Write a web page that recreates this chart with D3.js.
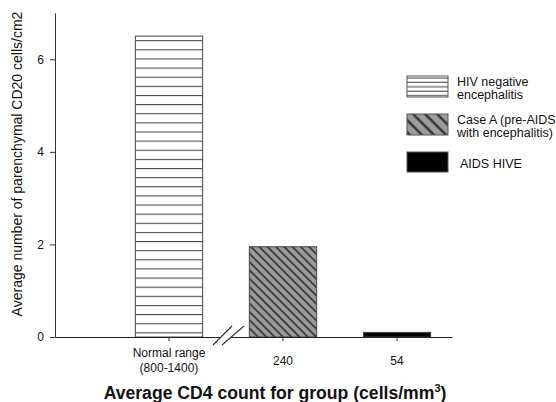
<!DOCTYPE html>
<html>
<head>
<meta charset="utf-8">
<script src="https://cdn.jsdelivr.net/npm/d3@7"></script>
<style>
  body { margin: 0; background: #fff; }
  svg { display: block; font-family: "Liberation Sans", Arial, sans-serif; }
</style>
</head>
<body>
<svg id="chart" width="556" height="402"></svg>
<script>
// data
const groups = ["Normal range (800-1400)", "240", "54"];
const groupLabels = [["Normal range", "(800-1400)"], ["240"], ["54"]];
const cd20Values = [6.5, 1.95, 0.1];
const seriesNames = ["HIV negative|encephalitis", "Case A (pre-AIDS|with encephalitis)", "AIDS HIVE"];
const yTicks = [0, 2, 4, 6];

const svg = d3.select("#chart");
const fills = ["url(#stripes)", "url(#hatch)", "#000"];
const legendFills = ["url(#stripesSmall)", "url(#hatchBig)", "#000"];

/** scales */
const y = d3.scaleLinear().domain([0, 7]).range([337, 13]);
const x = d3.scaleBand()
    .domain(groups)
    .range([55, 452])
    .paddingInner(0.41)
    .paddingOuter(0.446)
    .align(0.79);

/** patterns */
const defs = svg.append("defs");
function stripes(id, h, off) {
    const p = defs.append("pattern").attr("id", id)
        .attr("patternUnits", "userSpaceOnUse")
        .attr("width", 10).attr("height", h);
    p.append("rect").attr("width", 10).attr("height", h).attr("fill", "#fff");
    p.append("line").attr("x1", 0).attr("x2", 10).attr("y1", off).attr("y2", off)
        .attr("stroke", "#3a3a3a").attr("stroke-width", 1);
}
function hatch(id, s, w) {
    const p = defs.append("pattern").attr("id", id)
        .attr("patternUnits", "userSpaceOnUse")
        .attr("width", 10).attr("height", s)
        .attr("patternTransform", "rotate(45)");
    p.append("rect").attr("width", 10).attr("height", s).attr("fill", "#9c9c9c");
    p.append("line").attr("x1", 0).attr("x2", 10).attr("y1", s / 2).attr("y2", s / 2)
        .attr("stroke", "#333").attr("stroke-width", w);
}
stripes("stripes", 9.13, 4.2);
stripes("stripesSmall", 4.4, 2);
hatch("hatch", 5.87, 1.7);
hatch("hatchBig", 8.5, 2.4);

/** bars */
svg.append("g").selectAll("rect")
    .data(cd20Values)
    .join("rect")
    .attr("x", (d, i) => x(groups[i]))
    .attr("width", x.bandwidth())
    .attr("y", d => y(d))
    .attr("height", d => y(0) - y(d))
    .attr("fill", (d, i) => fills[i])
    .attr("stroke", "#444")
    .attr("stroke-width", 1);

/** y axis */
const yAxis = svg.append("g")
    .attr("transform", "translate(55,0)")
    .call(d3.axisLeft(y).tickValues(yTicks).tickFormat(d3.format("d")).tickSize(5).tickSizeOuter(0).tickPadding(6));
yAxis.select(".domain").attr("stroke", "#333");
yAxis.selectAll(".tick line").attr("stroke", "#333");
yAxis.selectAll("text").attr("font-size", 12).attr("fill", "#111")
    .attr("font-family", "Liberation Sans, Arial, sans-serif");

/** x axis */
const xAxis = svg.append("g")
    .attr("transform", "translate(0," + y(0) + ")")
    .call(d3.axisBottom(x).tickSize(4).tickSizeOuter(0).tickFormat(""));
xAxis.select(".domain").attr("stroke", "#222");
xAxis.selectAll(".tick line").attr("stroke", "#333");

// multi-line tick labels
svg.append("g").selectAll("text")
    .data(groups)
    .join("text")
    .attr("x", d => x(d) + x.bandwidth() / 2)
    .attr("y", (d, i) => groupLabels[i].length > 1 ? 357 : 365)
    .attr("text-anchor", "middle")
    .attr("font-size", 12)
    .attr("fill", "#111")
    .selectAll("tspan")
    .data((d, i) => groupLabels[i])
    .join("tspan")
    .attr("x", function () { return d3.select(this.parentNode).attr("x"); })
    .attr("dy", (d, j) => j ? 15 : 0)
    .text(d => d);

// axis break between first two groups
const bx = x(groups[0]) + x.bandwidth() + (x.step() - x.bandwidth()) / 2 + 2;
const by = y(0);
svg.append("rect").attr("x", bx - 7).attr("y", by - 2).attr("width", 10).attr("height", 4).attr("fill", "#fff");
[[-15, 8, 4, -11], [-6, 8, 16, -11]].forEach(s => {
    svg.append("line")
        .attr("x1", bx + s[0]).attr("y1", by + s[1])
        .attr("x2", bx + s[2]).attr("y2", by + s[3])
        .attr("stroke", "#333").attr("stroke-width", 1.1);
});

/** titles */
svg.append("text")
    .attr("transform", "translate(22,164) rotate(-90)")
    .attr("text-anchor", "middle")
    .attr("font-size", 14)
    .attr("fill", "#111")
    .text("Average number of parenchymal CD20 cells/cm2");

const xt = svg.append("text")
    .attr("x", 275).attr("y", 399)
    .attr("text-anchor", "middle")
    .attr("font-size", 17.6)
    .attr("font-weight", "bold")
    .attr("fill", "#111");
xt.append("tspan").text("Average CD4 count for group (cells/mm");
xt.append("tspan").attr("font-size", 11).attr("dy", -7).text("3");
xt.append("tspan").attr("dy", 7).text(")");

/** legend */
const legend = svg.append("g").attr("transform", "translate(407,76)");
const rows = legend.selectAll("g")
    .data(seriesNames)
    .join("g")
    .attr("transform", (d, i) => "translate(0," + [0, 38, 76][i] + ")");
rows.append("rect")
    .attr("width", 41)
    .attr("height", (d, i) => i == 2 ? 20 : 21)
    .attr("fill", (d, i) => legendFills[i])
    .attr("stroke", "#555");
rows.append("text")
    .attr("x", (d, i) => i == 2 ? 53 : 50)
    .attr("y", (d, i) => d.includes("|") ? 10 : 16)
    .attr("font-size", 12.5)
    .attr("fill", "#111")
    .selectAll("tspan")
    .data(d => d.split("|"))
    .join("tspan")
    .attr("x", function () { return d3.select(this.parentNode).attr("x"); })
    .attr("dy", (d, j) => j ? 13 : 0)
    .text(d => d);
</script>
</body>
</html>
